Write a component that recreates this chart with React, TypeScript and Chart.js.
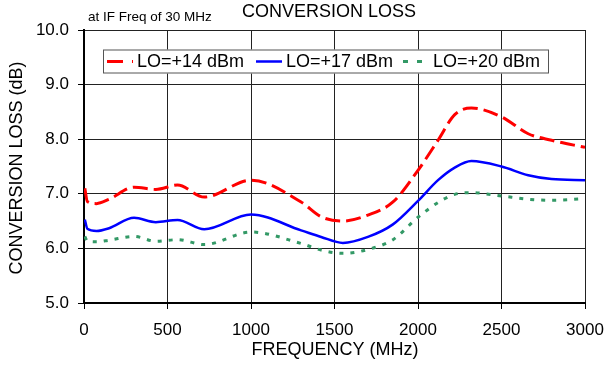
import React, { useEffect, useRef } from "react";
import { Chart, registerables } from "chart.js";

Chart.register(...registerables);

// ---- data ----
const freqMHz = [5, 20, 75, 150, 300, 430, 560, 720, 1000, 1300, 1420, 1550, 1700, 1850, 2000, 2120, 2220, 2320, 2500, 2660, 2800, 3000];
const lo14 = [7.10, 6.86, 6.82, 6.90, 7.12, 7.08, 7.16, 6.94, 7.25, 6.85, 6.58, 6.50, 6.61, 6.85, 7.43, 7.98, 8.45, 8.57, 8.41, 8.10, 7.98, 7.85];
const lo17 = [6.53, 6.36, 6.32, 6.37, 6.56, 6.48, 6.52, 6.35, 6.62, 6.33, 6.21, 6.10, 6.21, 6.44, 6.87, 7.25, 7.48, 7.60, 7.50, 7.34, 7.27, 7.25];
const lo20 = [6.22, 6.13, 6.12, 6.15, 6.22, 6.13, 6.16, 6.07, 6.30, 6.09, 5.97, 5.91, 5.98, 6.16, 6.57, 6.84, 6.99, 7.02, 6.96, 6.90, 6.88, 6.91];
const seriesLabels = ["LO=+14 dBm", "LO=+17 dBm", "LO=+20 dBm"];
const xMin = 0, xMax = 3000, xStep = 500;
const yMin = 5, yMax = 10, yStep = 1;
const chartTitle = "CONVERSION LOSS";
const subTitle = "at IF Freq of 30 MHz";
const xTitle = "FREQUENCY (MHz)";
const yTitle = "CONVERSION LOSS (dB)";

const FONT = "'Liberation Sans', Arial, sans-serif";
const colors = ["#ff0000", "#0000ff", "#339966"];
const dashes = [[15, 6], [], [4, 7]];
const widths = [3, 2.5, 3];

const textPlugin = {
  id: "customText",
  afterDraw(chart: any) {
    const ctx = chart.ctx as CanvasRenderingContext2D;
    ctx.save();
    ctx.fillStyle = "#000";
    ctx.textBaseline = "middle";
    // titles
    ctx.font = `13.5px ${FONT}`;
    ctx.textAlign = "left";
    ctx.fillText(subTitle, 88, 17);
    ctx.font = `18px ${FONT}`;
    ctx.textAlign = "center";
    ctx.fillText(chartTitle, 329, 12);
    ctx.fillText(xTitle, 335, 350);
    ctx.save();
    ctx.translate(17, 168);
    ctx.rotate(-Math.PI / 2);
    ctx.fillText(yTitle, 0, 0);
    ctx.restore();

    // legend box
    const bx = 103, by = 49.5, bw = 446, bh = 24;
    ctx.fillStyle = "#fff";
    ctx.fillRect(bx, by, bw, bh);
    ctx.strokeStyle = "#555";
    ctx.lineWidth = 1;
    ctx.strokeRect(bx + 0.5, by + 0.5, bw - 1, bh - 1);
    const starts = [107, 256, 403];
    const legendDash = [[16, 9], [], [5, 9]];
    const cy = by + bh / 2;
    seriesLabels.forEach((label, i) => {
      const sx = starts[i];
      ctx.save();
      ctx.strokeStyle = colors[i];
      ctx.lineWidth = widths[i];
      ctx.setLineDash(legendDash[i]);
      ctx.beginPath();
      ctx.moveTo(sx, cy);
      ctx.lineTo(sx + 26, cy);
      ctx.stroke();
      ctx.restore();
      ctx.fillStyle = "#000";
      ctx.font = `18px ${FONT}`;
      ctx.textAlign = "left";
      ctx.textBaseline = "middle";
      ctx.fillText(label, sx + 30, cy + 1);
    });
    ctx.restore();
  },
};

export default function App() {
  const ref = useRef<HTMLCanvasElement>(null);
  useEffect(() => {
    const series = [lo14, lo17, lo20];
    const chart = new Chart(ref.current as HTMLCanvasElement, {
      type: "line",
      data: {
        datasets: series.map((vals, i) => ({
          label: seriesLabels[i],
          data: freqMHz.map((f, j) => ({ x: f, y: vals[j] })),
          borderColor: colors[i],
          backgroundColor: colors[i],
          borderWidth: widths[i],
          borderDash: dashes[i],
          pointRadius: 0,
          fill: false,
          cubicInterpolationMode: "monotone" as const,
        })),
      },
      options: {
        responsive: false,
        animation: false,
        devicePixelRatio: 1,
        layout: { padding: { top: 30, right: 21, left: 0, bottom: 0 } },
        plugins: { legend: { display: false }, title: { display: false }, tooltip: { enabled: false } },
        scales: {
          x: {
            type: "linear",
            min: xMin,
            max: xMax,
            afterFit(scale: any) { scale.height = 63; scale.paddingLeft = 0; scale.paddingRight = 0; },
            ticks: { stepSize: xStep, color: "#000", font: { family: FONT, size: 17 }, padding: 11, maxRotation: 0, callback: (v: any) => String(v) },
            grid: { color: "#222", lineWidth: 1, tickLength: 6, tickColor: "#000" },
            border: { color: "#000", width: 2 },
          },
          y: {
            type: "linear",
            min: yMin,
            max: yMax,
            afterFit(scale: any) { scale.width = 84; scale.paddingTop = 0; scale.paddingBottom = 0; },
            ticks: { stepSize: yStep, color: "#000", font: { family: FONT, size: 17 }, padding: 9, callback: (v: any) => Number(v).toFixed(1) },
            grid: { color: "#222", lineWidth: 1, tickLength: 6, tickColor: "#000" },
            border: { color: "#000", width: 2 },
          },
        },
      },
      plugins: [textPlugin],
    });
    return () => chart.destroy();
  }, []);
  return (
    <div style={{ position: "fixed", left: 0, top: 0, width: 606, height: 366, background: "#fff" }}>
      <canvas ref={ref} width={606} height={366} style={{ display: "block", width: 606, height: 366 }} />
    </div>
  );
}
